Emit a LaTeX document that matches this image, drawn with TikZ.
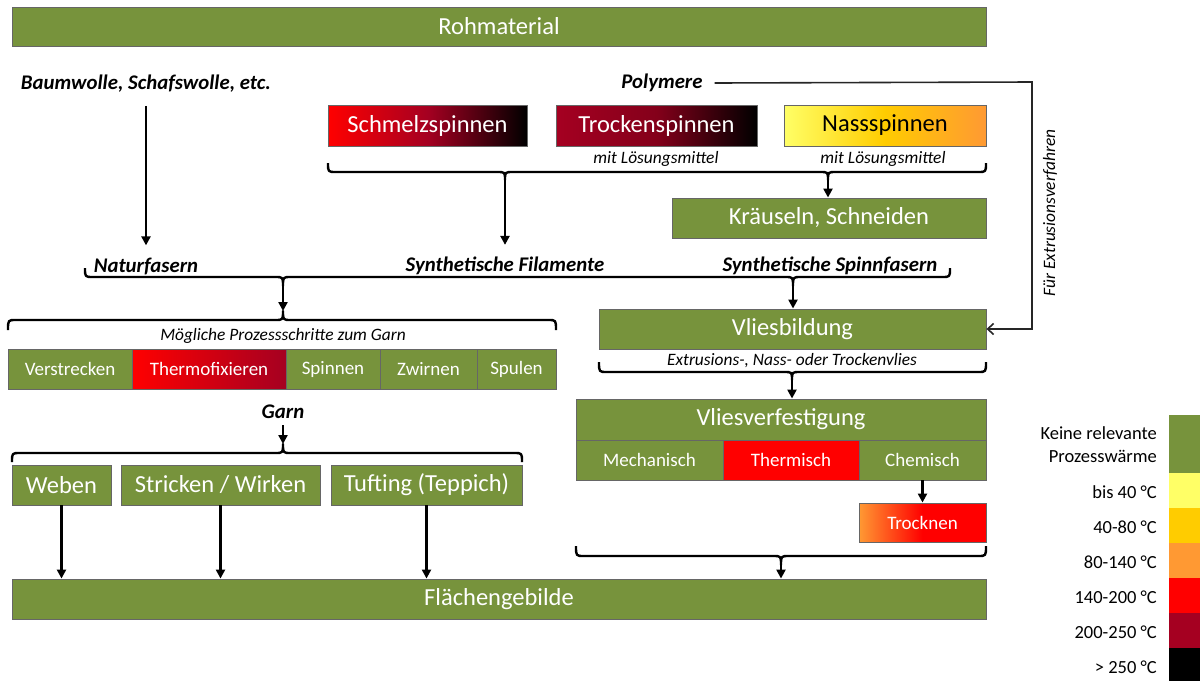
\documentclass[tikz,border=0pt]{standalone}
\usepackage{fontspec}
\setmainfont{Carlito}
\usetikzlibrary{arrows.meta}

\definecolor{olive}{HTML}{77933C}
\definecolor{hot}{HTML}{FF0000}
\definecolor{wine}{HTML}{A50021}
\definecolor{paleyellow}{HTML}{FFFF66}
\definecolor{gold}{HTML}{FFCC00}
\definecolor{amber}{HTML}{FF9933}

\tikzset{
  box/.style={draw=black!60, line width=0.9pt, inner sep=0pt, text=white,
              font=\fontsize{24.5}{28}\selectfont},
  gbox/.style={box, fill=olive},
  sbox/.style={box, font=\fontsize{19}{23}\selectfont},
  sgbox/.style={sbox, fill=olive},
  tag/.style={font=\fontsize{20.8}{25}\selectfont\bfseries\itshape, inner sep=0pt},
  note/.style={font=\fontsize{17.4}{21}\selectfont\itshape, inner sep=0pt},
  legtext/.style={font=\fontsize{18.5}{23}\selectfont, anchor=east, inner sep=0pt, align=right},
  swatch/.style={inner sep=0pt, minimum width=31pt},
  arr/.style={line width=2.4pt, -{Triangle[length=9pt,width=9pt]}},
  brace/.style={line width=2.4pt, line join=round},
  conn/.style={line width=1.6pt, black!85, -{Straight Barb[length=6pt,width=11pt]}},
}

\begin{document}
\begin{tikzpicture}[x=1pt, y=-1pt]
\useasboundingbox (0,0) rectangle (1200,681);

% ---------- raw material ----------
\node[gbox, minimum width=974pt, minimum height=39pt] (roh) at (499,26.5) {Rohmaterial};
\node[tag] (baum) at (146,84) {Baumwolle, Schafswolle, etc.};
\node[tag] (poly) at (662,83) {Polymere};

% ---------- spinning processes ----------
\node[box, minimum width=199pt, minimum height=41pt,
      left color=hot, right color=black, middle color=wine] (schm) at (427.5,125.5) {Schmelzspinnen};
\node[box, minimum width=201pt, minimum height=41pt,
      left color=wine, right color=black, middle color=wine!80!black] (trsp) at (656.5,125.5) {Trockenspinnen};
\node[box, minimum width=202pt, minimum height=41pt, text=black,
      left color=paleyellow, right color=amber, middle color=gold] (nass) at (885,125.5) {Nassspinnen};
\node[note] (lm1) at (656,159) {mit Lösungsmittel};
\node[note] (lm2) at (883,159) {mit Lösungsmittel};

\node[gbox, minimum width=314pt, minimum height=40pt] (kr) at (829,218) {Kräuseln, Schneiden};

% ---------- fibre types ----------
\node[tag] (natur) at (146,266) {Naturfasern};
\node[tag] (synfil) at (505,266) {Synthetische Filamente};
\node[tag] (synsp) at (830,266) {Synthetische Spinnfasern};

% ---------- yarn route ----------
\node[note] (moegl) at (283,336) {Mögliche Prozessschritte zum Garn};
\node[sgbox, minimum width=124pt, minimum height=40pt] (verst) at (70,369) {Verstrecken};
\node[sbox, minimum width=154pt, minimum height=40pt,
      left color=hot, right color=wine] (thfix) at (209,369) {Thermofixieren};
\node[sgbox, minimum width=94pt, minimum height=40pt] (spin) at (333,369) {Spinnen};
\node[sgbox, minimum width=97pt, minimum height=40pt] (zwir) at (428.5,369) {Zwirnen};
\node[sgbox, minimum width=79pt, minimum height=40pt] (spul) at (516.5,369) {Spulen};

\node[tag] (garn) at (283,412) {Garn};
\node[gbox, minimum width=99pt, minimum height=40pt] (web) at (61.5,485) {Weben};
\node[gbox, minimum width=199pt, minimum height=40pt] (stri) at (220.5,485) {Stricken / Wirken};
\node[gbox, minimum width=191pt, minimum height=40pt] (tuft) at (426.5,485) {Tufting (Teppich)};

% ---------- nonwoven route ----------
\node[gbox, minimum width=387pt, minimum height=40pt] (vlb) at (792.5,329) {Vliesbildung};
\node[note] (extr) at (792,361) {Extrusions-, Nass- oder Trockenvlies};
\node[gbox, minimum width=410pt, minimum height=41pt] (vvf) at (781,419.5) {Vliesverfestigung};
\node[sgbox, minimum width=147pt, minimum height=40pt] (mech) at (649.5,460) {Mechanisch};
\node[sbox, fill=hot, minimum width=136pt, minimum height=40pt] (therm) at (791,460) {Thermisch};
\node[sgbox, minimum width=127pt, minimum height=40pt] (chem) at (922.5,460) {Chemisch};
\node[sbox, minimum width=127pt, minimum height=39pt,
      left color=amber, right color=hot, middle color=hot] (trock) at (922.5,522.5) {Trocknen};

% ---------- fabric ----------
\node[gbox, minimum width=974pt, minimum height=40pt] (fl) at (499,599) {Flächengebilde};

% ---------- braces ----------
\coordinate (b1a) at (505,180);
\coordinate (b1b) at (828,180);
\draw[brace] (328,163) .. controls (328,172) .. (336,172) -- (497,172)
  .. controls (505,172) .. (b1a) .. controls (505,172) .. (513,172) -- (820,172)
  .. controls (828,172) .. (b1b) .. controls (828,172) .. (836,172) -- (978,172)
  .. controls (986,172) .. (986,163);

\coordinate (b2a) at (283,286);
\coordinate (b2b) at (793,286);
\draw[brace] (85,268) .. controls (85,277) .. (93,277) -- (275,277)
  .. controls (283,277) .. (b2a) .. controls (283,277) .. (291,277) -- (785,277)
  .. controls (793,277) .. (b2b) .. controls (793,277) .. (801,277) -- (942,277)
  .. controls (950,277) .. (950,268);

\coordinate (b3) at (283,311);
\draw[brace] (8,330) .. controls (8,320) .. (16,320) -- (275,320)
  .. controls (283,320) .. (b3) .. controls (283,320) .. (291,320) -- (548,320)
  .. controls (556,320) .. (556,330);

\coordinate (b4) at (283,444);
\draw[brace] (12,462) .. controls (12,453) .. (20,453) -- (275,453)
  .. controls (283,453) .. (b4) .. controls (283,453) .. (291,453) -- (514,453)
  .. controls (522,453) .. (522,462);

\coordinate (b5) at (792,380);
\draw[brace] (599,362) .. controls (599,372) .. (607,372) -- (784,372)
  .. controls (792,372) .. (b5) .. controls (792,372) .. (800,372) -- (978,372)
  .. controls (986,372) .. (986,362);

\coordinate (b6) at (781,565);
\draw[brace] (576,546) .. controls (576,556) .. (584,556) -- (773,556)
  .. controls (781,556) .. (b6) .. controls (781,556) .. (789,556) -- (978,556)
  .. controls (986,556) .. (986,546);

% ---------- arrows ----------
\draw[arr, shorten <=13pt, shorten >=12pt] (baum.south) -- (baum.south |- natur.north);
\draw[arr, shorten >=12pt] (b1a) -- (synfil.north);
\draw[arr] (b1b) -- (b1b |- kr.north);
\draw[arr] (b2a) -- (b3);
\draw[arr] (b2b) -- (b2b |- vlb.north);
\draw[arr, shorten <=6pt] (garn.south) -- (b4);
\draw[arr] (web.south) -- (web.south |- fl.north);
\draw[arr] (stri.south) -- (stri.south |- fl.north);
\draw[arr] (tuft.south) -- (tuft.south |- fl.north);
\draw[arr] (b5) -- (b5 |- vvf.north);
\draw[arr] (chem.south) -- (trock.north);
\draw[arr] (b6) -- (b6 |- fl.north);

% polymer melt straight to web forming
\coordinate (pturn) at (1032,82);
\draw[conn] ([xshift=12pt]poly.east) -- (pturn) -- (pturn |- vlb.east) -- (vlb.east);
\node[note, rotate=90] (fuer) at (1050,213) {Für Extrusionsverfahren};

% ---------- legend ----------
\node[swatch, fill=olive, minimum height=58pt] (l0) at (1184.5,444) {};
\node[swatch, fill=paleyellow, minimum height=35pt] (l1) at (1184.5,490.5) {};
\node[swatch, fill=gold, minimum height=35pt] (l2) at (1184.5,525.5) {};
\node[swatch, fill=amber, minimum height=35pt] (l3) at (1184.5,560.5) {};
\node[swatch, fill=hot, minimum height=35pt] (l4) at (1184.5,595.5) {};
\node[swatch, fill=wine, minimum height=35pt] (l5) at (1184.5,630.5) {};
\node[swatch, fill=black, minimum height=33pt] (l6) at (1184.5,664.5) {};

\node[legtext] (t0) at (1157,445) {Keine relevante\\Prozesswärme};
\node[legtext] (t1) at (1157,492) {bis 40 °C};
\node[legtext] (t2) at (1157,527) {40-80 °C};
\node[legtext] (t3) at (1157,562) {80-140 °C};
\node[legtext] (t4) at (1157,597) {140-200 °C};
\node[legtext] (t5) at (1157,632) {200-250 °C};
\node[legtext] (t6) at (1157,667) {> 250 °C};
\end{tikzpicture}
\end{document}
